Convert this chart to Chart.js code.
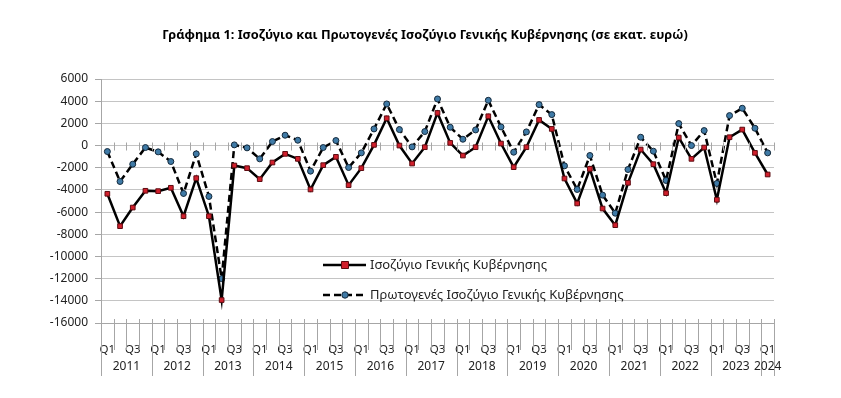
<!DOCTYPE html>
<html>
<head>
<meta charset="utf-8">
<script src="https://cdn.jsdelivr.net/npm/chart.js@4"></script>
<style>
  html, body { margin: 0; padding: 0; background: #fff; }
  #wrap { width: 841px; height: 398px; }
</style>
</head>
<body>
<div id="wrap"><canvas id="chart" width="841" height="398"></canvas></div>
<script>
// έτη και τρίμηνα
const years = ['2011', '2012', '2013', '2014', '2015', '2016', '2017', '2018', '2019', '2020', '2021', '2022', '2023', '2024'];
const quarters = ['Q1', 'Q2', 'Q3', 'Q4'];

// Ισοζύγιο Γενικής Κυβέρνησης (εκατ. ευρώ)
const balance = [
  -4350, -7270, -5590, -4080,
  -4110, -3810, -6370, -2940,
  -6370, -13930, -1800, -2040,
  -3030, -1530, -750, -1200,
  -3960, -1770, -1020, -3570,
  -2040, 60, 2460, 0,
  -1620, -150, 2940, 240,
  -900, -150, 2640, 180,
  -1950, -150, 2310, 1500,
  -2970, -5220, -2100, -5680,
  -7180, -3360, -360, -1680,
  -4290, 720, -1200, -180,
  -4890, 750, 1440, -660,
  -2610
];

// Πρωτογενές Ισοζύγιο Γενικής Κυβέρνησης (εκατ. ευρώ)
const primary = [
  -540, -3240, -1680, -180,
  -570, -1440, -4320, -750,
  -4590, -12000, 60, -210,
  -1200, 360, 930, 480,
  -2310, -180, 450, -1980,
  -660, 1500, 3750, 1440,
  -120, 1260, 4200, 1650,
  570, 1410, 4080, 1680,
  -600, 1230, 3690, 2790,
  -1830, -3960, -900, -4470,
  -6100, -2160, 750, -510,
  -3150, 1980, 0, 1350,
  -3420, 2700, 3360, 1560,
  -660
];

const seriesNames = ['Ισοζύγιο Γενικής Κυβέρνησης', 'Πρωτογενές Ισοζύγιο Γενικής Κυβέρνησης'];
const titleText = 'Γράφημα 1: Ισοζύγιο και Πρωτογενές Ισοζύγιο Γενικής Κυβέρνησης (σε εκατ. ευρώ)';

// ετικέτες κατηγοριών (ένα τρίμηνο ανά σημείο)
const labels = [];
years.forEach(y => {
  quarters.forEach(q => {
    if (labels.length < balance.length) labels.push(q);
  });
});

const FONT = '"Noto Sans", "DejaVu Sans", sans-serif';
const gridColor = '#c4c4c4';
const axisColor = '#a6a6a6';

// τίτλος
const titlePlugin = {
  id: 'chartTitle',
  afterDraw(chart) {
    const ctx = chart.ctx;
    ctx.save();
    ctx.fillStyle = '#000';
    ctx.font = 'bold 12.8px ' + FONT;
    ctx.textAlign = 'center';
    ctx.textBaseline = 'middle';
    ctx.fillText(titleText, 425, 35);
    ctx.restore();
  }
};

// άξονας κατηγοριών: διαχωριστικά, έτη και σημάδια στο μηδέν
const categoryAxisPlugin = {
  id: 'categoryAxis',
  afterDraw(chart) {
    const ctx = chart.ctx;
    const area = chart.chartArea;
    const x = chart.scales.x;
    const y = chart.scales.y;
    const n = labels.length;
    const step = (area.right - area.left) / n;
    const y0 = Math.round(y.getPixelForValue(0)) + 0.5;

    ctx.save();
    ctx.strokeStyle = axisColor;
    ctx.lineWidth = 1;
    for (let i = 0; i <= n; i++) {
      const px = Math.round(area.left + i * step) + 0.5;
      // σημάδια στη γραμμή του μηδενός
      ctx.beginPath();
      ctx.moveTo(px, y0 - 4);
      ctx.lineTo(px, y0 + 4);
      ctx.stroke();
      // διαχωριστικά κάτω από τον άξονα
      const isYear = i % 4 === 0 || i === n;
      ctx.beginPath();
      ctx.moveTo(px, area.bottom - 4);
      ctx.lineTo(px, area.bottom + (isYear ? 53 : 27));
      ctx.stroke();
    }

    // ετικέτες ετών
    ctx.fillStyle = '#222';
    ctx.font = '12px ' + FONT;
    ctx.textAlign = 'center';
    ctx.textBaseline = 'middle';
    years.forEach((yr, k) => {
      const first = k * 4;
      const last = Math.min(first + 3, n - 1);
      const cx = (x.getPixelForValue(first) + x.getPixelForValue(last)) / 2;
      ctx.fillText(yr, cx, area.bottom + 44);
    });
    ctx.restore();
  }
};

// υπόμνημα μέσα στην περιοχή του γραφήματος
const innerLegendPlugin = {
  id: 'innerLegend',
  afterDatasetsDraw(chart) {
    const ctx = chart.ctx;
    const rows = [
      { ds: chart.data.datasets[0], y: 265 },
      { ds: chart.data.datasets[1], y: 295 }
    ];
    ctx.save();
    rows.forEach(r => {
      const ds = r.ds;
      ctx.strokeStyle = ds.borderColor;
      ctx.lineWidth = ds.borderWidth;
      ctx.setLineDash(ds.borderDash || []);
      ctx.beginPath();
      ctx.moveTo(323, r.y);
      ctx.lineTo(366, r.y);
      ctx.stroke();
      ctx.setLineDash([]);
      ctx.fillStyle = ds.pointBackgroundColor;
      ctx.strokeStyle = ds.pointBorderColor;
      ctx.lineWidth = 1;
      ctx.beginPath();
      if (ds.pointStyle === 'rect') {
        ctx.rect(341.5, r.y - 3.5, 7, 7);
      } else {
        ctx.arc(345, r.y, 3.2, 0, Math.PI * 2);
      }
      ctx.fill();
      ctx.stroke();
      ctx.fillStyle = '#222';
      ctx.font = '13px ' + FONT;
      ctx.textAlign = 'left';
      ctx.textBaseline = 'middle';
      ctx.fillText(ds.label, 370, r.y);
    });
    ctx.restore();
  }
};

const ctx = document.getElementById('chart').getContext('2d');
new Chart(ctx, {
  type: 'line',
  data: {
    labels: labels,
    datasets: [{
      label: seriesNames[0],
      data: balance,
      borderColor: '#000',
      borderWidth: 2.5,
      pointStyle: 'rect',
      pointRadius: 3.3,
      pointBackgroundColor: '#d11f2c',
      pointBorderColor: '#5c0b10',
      pointBorderWidth: 1,
      tension: 0
    }, {
      label: seriesNames[1],
      data: primary,
      borderColor: '#000',
      borderWidth: 2.5,
      borderDash: [7, 4],
      pointStyle: 'circle',
      pointRadius: 3,
      pointBackgroundColor: '#3f7aa6',
      pointBorderColor: '#13283a',
      pointBorderWidth: 1,
      tension: 0
    }]
  },
  options: {
    responsive: false,
    animation: false,
    layout: { padding: { left: 0, right: 67, top: 79, bottom: 0 } },
    plugins: {
      legend: { display: false },
      tooltip: { enabled: false },
      title: { display: false }
    },
    scales: {
      x: {
        type: 'category',
        offset: true,
        grid: { display: false },
        border: { display: true, color: axisColor },
        ticks: {
          autoSkip: false,
          maxRotation: 0,
          padding: 12,
          color: '#222',
          font: { family: FONT, size: 11.5 },
          callback: (v, i) => (i % 2 === 0 ? labels[i] : '')
        },
        afterFit: s => { s.height = 75; }
      },
      y: {
        min: -16000,
        max: 6000,
        ticks: {
          stepSize: 2000,
          padding: 7,
          color: '#222',
          font: { family: FONT, size: 12 },
          callback: v => String(v)
        },
        grid: { color: gridColor, tickLength: 6, tickColor: axisColor },
        border: { display: true, color: axisColor },
        afterFit: s => { s.width = 101; }
      }
    }
  },
  plugins: [titlePlugin, categoryAxisPlugin, innerLegendPlugin]
});
</script>
</body>
</html>
